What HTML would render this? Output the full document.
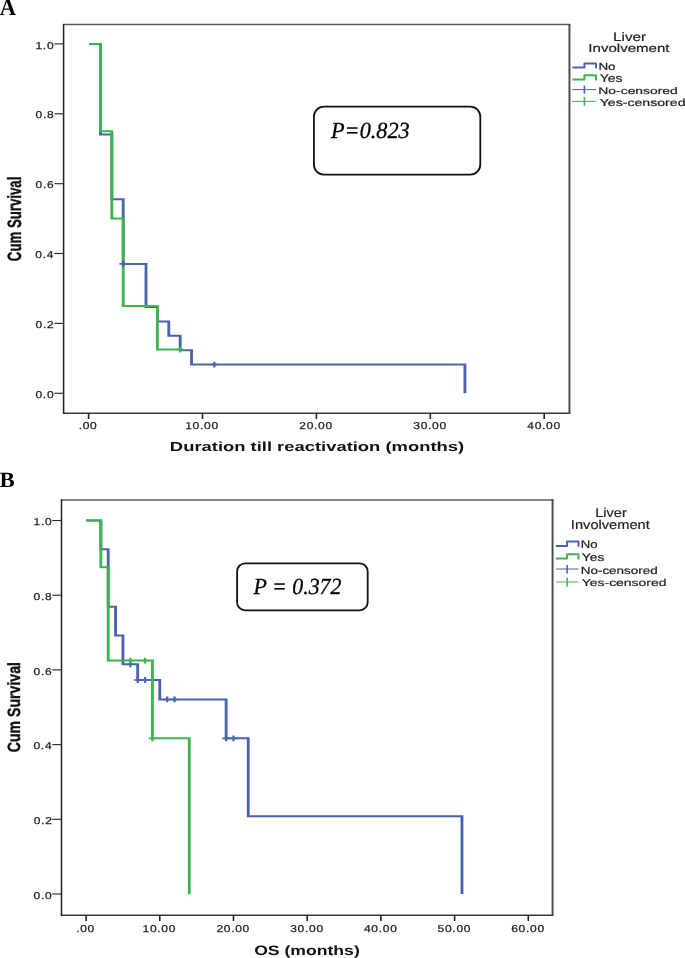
<!DOCTYPE html><html><head><meta charset="utf-8"><style>html,body{margin:0;padding:0;background:#fff;width:685px;height:958px;overflow:hidden}svg{display:block;will-change:transform}text{white-space:pre;text-rendering:geometricPrecision}</style></head><body><svg width="685" height="958" viewBox="0 0 685 958">
<rect width="685" height="958" fill="#fff"/>
<text style='font-family:"Liberation Serif",serif;font-size:23.63px;fill:#000;font-weight:bold' transform="translate(-0.22 15.30) scale(0.948 1)">A</text>
<text style='font-family:"Liberation Serif",serif;font-size:21.74px;fill:#000;font-weight:bold' transform="translate(-0.38 486.94) scale(1.056 1)">B</text>
<path d="M63.00 24.60H570.25" stroke="#5a5a5a" stroke-width="1.5" fill="none"/>
<path d="M63.00 413.20H570.25" stroke="#383838" stroke-width="1.4" fill="none"/>
<path d="M63.60 23.90V413.80" stroke="#222" stroke-width="1.5" fill="none"/>
<path d="M569.45 23.90V413.90" stroke="#474747" stroke-width="1.9" fill="none"/>
<line x1="54.4" y1="393.3" x2="63.6" y2="393.3" stroke="#222" stroke-width="1.1"/>
<text style='font-family:"Liberation Sans",sans-serif;font-size:10.00px;fill:#222;letter-spacing:0.60px;stroke:#222;stroke-width:0.25px' transform="translate(35.45 397.99) scale(1.200 1)">0.0</text>
<line x1="54.4" y1="323.4" x2="63.6" y2="323.4" stroke="#222" stroke-width="1.1"/>
<text style='font-family:"Liberation Sans",sans-serif;font-size:10.00px;fill:#222;letter-spacing:0.60px;stroke:#222;stroke-width:0.25px' transform="translate(35.58 328.11) scale(1.200 1)">0.2</text>
<line x1="54.4" y1="253.5" x2="63.6" y2="253.5" stroke="#222" stroke-width="1.1"/>
<text style='font-family:"Liberation Sans",sans-serif;font-size:10.00px;fill:#222;letter-spacing:0.60px;stroke:#222;stroke-width:0.25px' transform="translate(35.33 258.23) scale(1.200 1)">0.4</text>
<line x1="54.4" y1="183.7" x2="63.6" y2="183.7" stroke="#222" stroke-width="1.1"/>
<text style='font-family:"Liberation Sans",sans-serif;font-size:10.00px;fill:#222;letter-spacing:0.60px;stroke:#222;stroke-width:0.25px' transform="translate(35.51 188.35) scale(1.200 1)">0.6</text>
<line x1="54.4" y1="113.8" x2="63.6" y2="113.8" stroke="#222" stroke-width="1.1"/>
<text style='font-family:"Liberation Sans",sans-serif;font-size:10.00px;fill:#222;letter-spacing:0.60px;stroke:#222;stroke-width:0.25px' transform="translate(35.50 118.47) scale(1.200 1)">0.8</text>
<line x1="54.4" y1="43.9" x2="63.6" y2="43.9" stroke="#222" stroke-width="1.1"/>
<text style='font-family:"Liberation Sans",sans-serif;font-size:10.00px;fill:#222;letter-spacing:0.60px;stroke:#222;stroke-width:0.25px' transform="translate(35.45 48.59) scale(1.200 1)">1.0</text>
<line x1="88.6" y1="413.2" x2="88.6" y2="419.0" stroke="#222" stroke-width="1.6"/>
<text style='font-family:"Liberation Sans",sans-serif;font-size:10.00px;fill:#222;letter-spacing:0.60px;stroke:#222;stroke-width:0.25px' transform="translate(78.63 428.84) scale(1.200 1)">.00</text>
<line x1="202.5" y1="413.2" x2="202.5" y2="419.0" stroke="#222" stroke-width="1.6"/>
<text style='font-family:"Liberation Sans",sans-serif;font-size:10.00px;fill:#222;letter-spacing:0.60px;stroke:#222;stroke-width:0.25px' transform="translate(185.22 428.84) scale(1.200 1)">10.00</text>
<line x1="316.4" y1="413.2" x2="316.4" y2="419.0" stroke="#222" stroke-width="1.6"/>
<text style='font-family:"Liberation Sans",sans-serif;font-size:10.00px;fill:#222;letter-spacing:0.60px;stroke:#222;stroke-width:0.25px' transform="translate(299.28 428.84) scale(1.200 1)">20.00</text>
<line x1="430.3" y1="413.2" x2="430.3" y2="419.0" stroke="#222" stroke-width="1.6"/>
<text style='font-family:"Liberation Sans",sans-serif;font-size:10.00px;fill:#222;letter-spacing:0.60px;stroke:#222;stroke-width:0.25px' transform="translate(413.25 428.84) scale(1.200 1)">30.00</text>
<line x1="544.2" y1="413.2" x2="544.2" y2="419.0" stroke="#222" stroke-width="1.6"/>
<text style='font-family:"Liberation Sans",sans-serif;font-size:10.00px;fill:#222;letter-spacing:0.60px;stroke:#222;stroke-width:0.25px' transform="translate(527.24 428.84) scale(1.200 1)">40.00</text>
<path d="M60.90 500.00H553.35" stroke="#5a5a5a" stroke-width="1.5" fill="none"/>
<path d="M60.90 915.20H553.35" stroke="#383838" stroke-width="1.4" fill="none"/>
<path d="M61.50 499.30V915.80" stroke="#222" stroke-width="1.5" fill="none"/>
<path d="M552.55 499.30V915.90" stroke="#474747" stroke-width="1.9" fill="none"/>
<line x1="52.3" y1="894.0" x2="61.5" y2="894.0" stroke="#222" stroke-width="1.1"/>
<text style='font-family:"Liberation Sans",sans-serif;font-size:10.00px;fill:#222;letter-spacing:0.60px;stroke:#222;stroke-width:0.25px' transform="translate(33.55 898.69) scale(1.200 1)">0.0</text>
<line x1="52.3" y1="819.3" x2="61.5" y2="819.3" stroke="#222" stroke-width="1.1"/>
<text style='font-family:"Liberation Sans",sans-serif;font-size:10.00px;fill:#222;letter-spacing:0.60px;stroke:#222;stroke-width:0.25px' transform="translate(33.68 823.99) scale(1.200 1)">0.2</text>
<line x1="52.3" y1="744.6" x2="61.5" y2="744.6" stroke="#222" stroke-width="1.1"/>
<text style='font-family:"Liberation Sans",sans-serif;font-size:10.00px;fill:#222;letter-spacing:0.60px;stroke:#222;stroke-width:0.25px' transform="translate(33.43 749.29) scale(1.200 1)">0.4</text>
<line x1="52.3" y1="669.9" x2="61.5" y2="669.9" stroke="#222" stroke-width="1.1"/>
<text style='font-family:"Liberation Sans",sans-serif;font-size:10.00px;fill:#222;letter-spacing:0.60px;stroke:#222;stroke-width:0.25px' transform="translate(33.61 674.59) scale(1.200 1)">0.6</text>
<line x1="52.3" y1="595.2" x2="61.5" y2="595.2" stroke="#222" stroke-width="1.1"/>
<text style='font-family:"Liberation Sans",sans-serif;font-size:10.00px;fill:#222;letter-spacing:0.60px;stroke:#222;stroke-width:0.25px' transform="translate(33.60 599.89) scale(1.200 1)">0.8</text>
<line x1="52.3" y1="520.5" x2="61.5" y2="520.5" stroke="#222" stroke-width="1.1"/>
<text style='font-family:"Liberation Sans",sans-serif;font-size:10.00px;fill:#222;letter-spacing:0.60px;stroke:#222;stroke-width:0.25px' transform="translate(33.55 525.19) scale(1.200 1)">1.0</text>
<line x1="86.1" y1="915.2" x2="86.1" y2="921.0" stroke="#222" stroke-width="1.6"/>
<text style='font-family:"Liberation Sans",sans-serif;font-size:10.00px;fill:#222;letter-spacing:0.60px;stroke:#222;stroke-width:0.25px' transform="translate(76.13 931.79) scale(1.200 1)">.00</text>
<line x1="159.8" y1="915.2" x2="159.8" y2="921.0" stroke="#222" stroke-width="1.6"/>
<text style='font-family:"Liberation Sans",sans-serif;font-size:10.00px;fill:#222;letter-spacing:0.60px;stroke:#222;stroke-width:0.25px' transform="translate(142.52 931.79) scale(1.200 1)">10.00</text>
<line x1="233.5" y1="915.2" x2="233.5" y2="921.0" stroke="#222" stroke-width="1.6"/>
<text style='font-family:"Liberation Sans",sans-serif;font-size:10.00px;fill:#222;letter-spacing:0.60px;stroke:#222;stroke-width:0.25px' transform="translate(216.38 931.79) scale(1.200 1)">20.00</text>
<line x1="307.2" y1="915.2" x2="307.2" y2="921.0" stroke="#222" stroke-width="1.6"/>
<text style='font-family:"Liberation Sans",sans-serif;font-size:10.00px;fill:#222;letter-spacing:0.60px;stroke:#222;stroke-width:0.25px' transform="translate(290.15 931.79) scale(1.200 1)">30.00</text>
<line x1="380.9" y1="915.2" x2="380.9" y2="921.0" stroke="#222" stroke-width="1.6"/>
<text style='font-family:"Liberation Sans",sans-serif;font-size:10.00px;fill:#222;letter-spacing:0.60px;stroke:#222;stroke-width:0.25px' transform="translate(363.94 931.79) scale(1.200 1)">40.00</text>
<line x1="454.6" y1="915.2" x2="454.6" y2="921.0" stroke="#222" stroke-width="1.6"/>
<text style='font-family:"Liberation Sans",sans-serif;font-size:10.00px;fill:#222;letter-spacing:0.60px;stroke:#222;stroke-width:0.25px' transform="translate(437.54 931.79) scale(1.200 1)">50.00</text>
<line x1="528.3" y1="915.2" x2="528.3" y2="921.0" stroke="#222" stroke-width="1.6"/>
<text style='font-family:"Liberation Sans",sans-serif;font-size:10.00px;fill:#222;letter-spacing:0.60px;stroke:#222;stroke-width:0.25px' transform="translate(511.18 931.79) scale(1.200 1)">60.00</text>
<text style='font-family:"Liberation Sans",sans-serif;font-size:13.22px;fill:#111;font-weight:bold' transform="translate(169.87 450.98) scale(1.391 1)">Duration till reactivation (months)</text>
<text style='font-family:"Liberation Sans",sans-serif;font-size:13.58px;fill:#111;font-weight:bold' transform="translate(254.18 954.64) scale(1.296 1)">OS (months)</text>
<text style='font-family:"Liberation Sans",sans-serif;font-size:13.23px;fill:#111;font-weight:bold;stroke:#111;stroke-width:0.3px' transform="translate(21.01 261.14) rotate(-90) scale(1 1.451)">Cum Survival</text>
<text style='font-family:"Liberation Sans",sans-serif;font-size:14.13px;fill:#111;font-weight:bold;stroke:#111;stroke-width:0.3px' transform="translate(19.83 752.28) rotate(-90) scale(1 1.253)">Cum Survival</text>
<g transform="scale(1.420 1)" fill="none" stroke-linecap="butt" stroke-linejoin="miter">
<path d="M62.71 43.90 H70.73 V134.50 H78.75 V199.17 H86.77 V263.88 H102.82 V307.03 H110.84 V321.39 H118.86 V335.79 H126.88 V350.15 H134.90 V364.54 H327.41 V393.30" stroke="#4A62B0" stroke-width="2.00"/>
<path d="M62.71 43.90 H70.73 V131.25 H78.75 V218.60 H86.77 V305.95 H110.84 V349.62 H126.88" stroke="#3BB64E" stroke-width="2.00"/>
<path d="M86.77 260.98V266.78M84.10 263.88H89.45" stroke="#4A62B0" stroke-width="1.55" fill="none"/>
<path d="M150.94 361.64V367.44M148.27 364.54H153.62" stroke="#4A62B0" stroke-width="1.55" fill="none"/>
<path d="M126.88 346.73V352.52M124.20 349.62H129.56" stroke="#3BB64E" stroke-width="1.55" fill="none"/>
<path d="M60.63 520.50 H71.01 V549.26 H76.20 V606.78 H81.39 V635.54 H86.58 V664.30 H96.96 V679.98 H112.54 V699.41 H159.25 V738.36 H174.82 V816.20 H325.33 V894.00" stroke="#4A62B0" stroke-width="2.00"/>
<path d="M60.63 520.50 H71.01 V567.19 H76.20 V660.56 H107.35 V738.36 H133.30 V894.00" stroke="#3BB64E" stroke-width="2.00"/>
<path d="M91.77 661.40V667.20M89.10 664.30H94.45" stroke="#4A62B0" stroke-width="1.55" fill="none"/>
<path d="M96.96 677.08V682.88M94.29 679.98H99.64" stroke="#4A62B0" stroke-width="1.55" fill="none"/>
<path d="M102.15 677.08V682.88M99.48 679.98H104.83" stroke="#4A62B0" stroke-width="1.55" fill="none"/>
<path d="M117.73 696.51V702.31M115.05 699.41H120.40" stroke="#4A62B0" stroke-width="1.55" fill="none"/>
<path d="M122.92 696.51V702.31M120.24 699.41H125.59" stroke="#4A62B0" stroke-width="1.55" fill="none"/>
<path d="M159.25 735.46V741.26M156.57 738.36H161.92" stroke="#4A62B0" stroke-width="1.55" fill="none"/>
<path d="M164.44 735.46V741.26M161.76 738.36H167.11" stroke="#4A62B0" stroke-width="1.55" fill="none"/>
<path d="M91.77 657.66V663.46M89.10 660.56H94.45" stroke="#3BB64E" stroke-width="1.55" fill="none"/>
<path d="M102.15 657.66V663.46M99.48 660.56H104.83" stroke="#3BB64E" stroke-width="1.55" fill="none"/>
<path d="M107.35 735.46V741.26M104.67 738.36H110.02" stroke="#3BB64E" stroke-width="1.55" fill="none"/>
</g>
<rect x="313.9" y="106.6" width="166.4" height="68" rx="10" ry="10" fill="none" stroke="#111" stroke-width="1.8"/>
<text style='font-family:"Liberation Serif",serif;font-size:23.00px;fill:#000;font-style:italic;stroke:#000;stroke-width:0.3px' transform="translate(331.02 137.87) scale(0.968 1)">P=0.823</text>
<rect x="237.1" y="563.4" width="130.6" height="46.9" rx="8" ry="8" fill="none" stroke="#111" stroke-width="1.8"/>
<text style='font-family:"Liberation Serif",serif;font-size:23.00px;fill:#000;font-style:italic;stroke:#000;stroke-width:0.3px' transform="translate(253.62 594.47) scale(0.951 1)">P = 0.372</text>
<text style='font-family:"Liberation Sans",sans-serif;font-size:12.32px;fill:#222;stroke:#222;stroke-width:0.2px' transform="translate(612.94 40.73) scale(1.247 1)">Liver</text>
<text style='font-family:"Liberation Sans",sans-serif;font-size:11.44px;fill:#222;stroke:#222;stroke-width:0.2px' transform="translate(588.36 51.79) scale(1.316 1)">Involvement</text>
<path d="M572.4 67.5H584.4V63.4H596.0V68.2" fill="none" stroke="#4A62B0" stroke-width="2" stroke-linejoin="round"/>
<text style='font-family:"Liberation Sans",sans-serif;font-size:10.32px;fill:#222;stroke:#222;stroke-width:0.2px' transform="translate(598.40 69.90) scale(1.301 1)">No</text>
<path d="M572.4 79.6H584.4V75.2H596.0V80.4" fill="none" stroke="#3BB64E" stroke-width="2" stroke-linejoin="round"/>
<text style='font-family:"Liberation Sans",sans-serif;font-size:11.32px;fill:#222;stroke:#222;stroke-width:0.2px' transform="translate(599.69 81.69) scale(1.231 1)">Yes</text>
<path d="M572.3 89.6H596.2" fill="none" stroke="#4A62B0" stroke-width="1.0"/>
<path d="M584.4 85.5V93.7" fill="none" stroke="#4A62B0" stroke-width="1.6"/>
<text style='font-family:"Liberation Sans",sans-serif;font-size:9.53px;fill:#222;stroke:#222;stroke-width:0.2px' transform="translate(598.36 93.91) scale(1.457 1)">No-censored</text>
<path d="M572.3 101.4H596.2" fill="none" stroke="#3BB64E" stroke-width="1.0"/>
<path d="M584.4 97.1V105.7" fill="none" stroke="#3BB64E" stroke-width="1.6"/>
<text style='font-family:"Liberation Sans",sans-serif;font-size:10.21px;fill:#222;stroke:#222;stroke-width:0.2px' transform="translate(599.69 105.70) scale(1.384 1)">Yes-censored</text>
<text style='font-family:"Liberation Sans",sans-serif;font-size:12.73px;fill:#222;stroke:#222;stroke-width:0.2px' transform="translate(595.20 516.73) scale(1.147 1)">Liver</text>
<text style='font-family:"Liberation Sans",sans-serif;font-size:12.80px;fill:#222;stroke:#222;stroke-width:0.2px' transform="translate(570.85 529.38) scale(1.144 1)">Involvement</text>
<path d="M555.7 546.1H567.1V541.5H578.5V546.8" fill="none" stroke="#4A62B0" stroke-width="2" stroke-linejoin="round"/>
<text style='font-family:"Liberation Sans",sans-serif;font-size:11.04px;fill:#222;stroke:#222;stroke-width:0.2px' transform="translate(580.72 548.49) scale(1.193 1)">No</text>
<path d="M555.7 558.6H567.1V554.2H578.5V559.5" fill="none" stroke="#3BB64E" stroke-width="2" stroke-linejoin="round"/>
<text style='font-family:"Liberation Sans",sans-serif;font-size:11.04px;fill:#222;stroke:#222;stroke-width:0.2px' transform="translate(581.80 560.69) scale(1.257 1)">Yes</text>
<path d="M556.0 569.0H578.5" fill="none" stroke="#4A62B0" stroke-width="1.0"/>
<path d="M567.1 565.0V573.6" fill="none" stroke="#4A62B0" stroke-width="1.6"/>
<text style='font-family:"Liberation Sans",sans-serif;font-size:10.35px;fill:#222;stroke:#222;stroke-width:0.2px' transform="translate(580.70 573.90) scale(1.301 1)">No-censored</text>
<path d="M556.0 582.0H578.5" fill="none" stroke="#3BB64E" stroke-width="1.0"/>
<path d="M567.1 577.5V586.5" fill="none" stroke="#3BB64E" stroke-width="1.6"/>
<text style='font-family:"Liberation Sans",sans-serif;font-size:9.94px;fill:#222;stroke:#222;stroke-width:0.2px' transform="translate(581.79 586.10) scale(1.404 1)">Yes-censored</text>
</svg></body></html>
